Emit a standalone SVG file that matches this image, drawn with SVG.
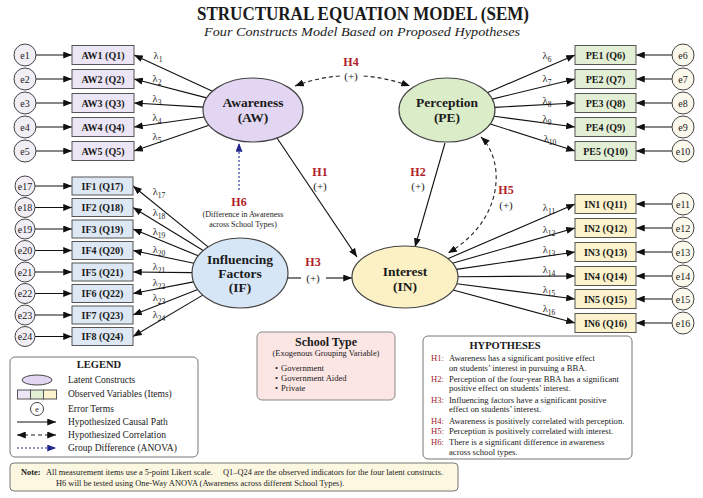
<svg xmlns="http://www.w3.org/2000/svg" width="703" height="498" viewBox="0 0 703 498">
<defs>
<style>
text{font-family:"Liberation Serif","DejaVu Serif",serif;fill:#1a1a1a}
.bx{stroke:#555;stroke-width:1}
.aw{fill:#ece5f6}.pe{fill:#e3efd5}.in{fill:#fcf2cc}.if{fill:#dde8f4}
.el{stroke:#444;stroke-width:1.2}
.ec{stroke:#444;stroke-width:1}
.el-l{fill:#f2eef6}.el-r{fill:#fbf8ec}
.bt{font-size:10px;font-weight:bold;text-anchor:middle;dominant-baseline:central}
.et{font-size:10px;text-anchor:middle;dominant-baseline:central}
.lt{font-size:13.5px;font-weight:bold;text-anchor:middle}
.lam{font-size:10.5px;text-anchor:middle}
.sub{font-size:7.5px}
.con{stroke:#111;stroke-width:1.1;fill:none}
.hl{font-size:12px;font-weight:bold;fill:#b01e2a;text-anchor:middle}
.pl{font-size:11px;text-anchor:middle}
.dash{stroke:#222;stroke-width:1.1;fill:none;stroke-dasharray:4 3}
.blu{stroke:#23288a;stroke-width:1.1;fill:none;stroke-dasharray:2 2}
.small{font-size:8.6px}
.hr{fill:#a31c2c}
.panel{fill:#fff;stroke:#777;stroke-width:1}
</style>
<marker id="ah" viewBox="0 0 10 8" refX="10" refY="4" markerWidth="9" markerHeight="7" markerUnits="userSpaceOnUse" orient="auto-start-reverse"><path d="M0,0 L10,4 L0,8 z" fill="#111"/></marker>
<marker id="ahb" viewBox="0 0 10 8" refX="10" refY="4" markerWidth="9" markerHeight="7" markerUnits="userSpaceOnUse" orient="auto-start-reverse"><path d="M0,0 L10,4 L0,8 z" fill="#23288a"/></marker>
</defs>
<rect width="703" height="498" fill="#fff"/>

<text x="363" y="20" font-size="19.5" font-weight="bold" text-anchor="middle" textLength="332" lengthAdjust="spacingAndGlyphs" fill="#1c1c2c">STRUCTURAL EQUATION MODEL (SEM)</text>
<text x="362" y="36" font-size="13.5" font-style="italic" text-anchor="middle" textLength="316" lengthAdjust="spacingAndGlyphs" fill="#333">Four Constructs Model Based on Proposed Hypotheses</text>

<g id="connectors">
<g class="con" marker-end="url(#ah)">
<line x1="36" y1="55" x2="72" y2="55"/><line x1="36" y1="79" x2="72" y2="79"/><line x1="36" y1="103" x2="72" y2="103"/><line x1="36" y1="127" x2="72" y2="127"/><line x1="36" y1="151" x2="72" y2="151"/>
<line x1="35" y1="186" x2="72" y2="186"/><line x1="35" y1="207.5" x2="72" y2="207.5"/><line x1="35" y1="229" x2="72" y2="229"/><line x1="35" y1="250.5" x2="72" y2="250.5"/><line x1="35" y1="272" x2="72" y2="272"/><line x1="35" y1="293.5" x2="72" y2="293.5"/><line x1="35" y1="315" x2="72" y2="315"/><line x1="35" y1="336.5" x2="72" y2="336.5"/>
<line x1="672" y1="55" x2="636" y2="55"/><line x1="672" y1="79" x2="636" y2="79"/><line x1="672" y1="103" x2="636" y2="103"/><line x1="672" y1="127" x2="636" y2="127"/><line x1="672" y1="151" x2="636" y2="151"/>
<line x1="672" y1="204" x2="636" y2="204"/><line x1="672" y1="228" x2="636" y2="228"/><line x1="672" y1="252" x2="636" y2="252"/><line x1="672" y1="276" x2="636" y2="276"/><line x1="672" y1="299" x2="636" y2="299"/><line x1="672" y1="323" x2="636" y2="323"/>
<line x1="212.5" y1="91.3" x2="134" y2="55"/><line x1="206.7" y1="97.9" x2="134" y2="79"/><line x1="203.2" y1="107.1" x2="134" y2="103"/><line x1="204.2" y1="117" x2="134" y2="127"/><line x1="209" y1="125.2" x2="134" y2="151"/>
<line x1="487.3" y1="92.7" x2="575" y2="55"/><line x1="492.1" y1="99.1" x2="575" y2="79"/><line x1="494.8" y1="107.4" x2="575" y2="103"/><line x1="494.1" y1="116.3" x2="575" y2="127"/><line x1="490.3" y1="123.9" x2="575" y2="151"/>
<line x1="447.8" y1="258.7" x2="575" y2="204"/><line x1="452.5" y1="263.3" x2="575" y2="228"/><line x1="456.4" y1="269.4" x2="575" y2="252"/><line x1="458" y1="276.7" x2="575" y2="276"/><line x1="456.7" y1="283.8" x2="575" y2="299"/><line x1="453.1" y1="290" x2="575" y2="323"/>
<line x1="208" y1="246.9" x2="133" y2="186"/><line x1="203.2" y1="250.5" x2="133" y2="207.5"/><line x1="198.2" y1="255.8" x2="133" y2="229"/><line x1="193.9" y1="263.3" x2="133" y2="250.5"/><line x1="192" y1="272.6" x2="133" y2="272"/><line x1="193.6" y1="281.9" x2="133" y2="293.5"/><line x1="197.7" y1="289.6" x2="133" y2="315"/><line x1="202.8" y1="295.1" x2="133" y2="336.5"/>
<line x1="277" y1="138" x2="357" y2="257"/>
<line x1="445" y1="143" x2="415" y2="247"/>
<line x1="326" y1="278" x2="352" y2="278"/>
</g>
<line class="con" x1="288" y1="278" x2="301" y2="278"/>
<path class="dash" d="M295,86 Q351,65 410,86" marker-start="url(#ah)" marker-end="url(#ah)"/>
<path class="dash" d="M481,137 C505,160 505,220 448,253" marker-start="url(#ah)" marker-end="url(#ah)"/>
<line class="blu" x1="239" y1="190" x2="239" y2="143" marker-end="url(#ahb)"/>
</g>

<g id="loadings">
<text class="lam" x="158" y="59">λ<tspan class="sub" dy="3">1</tspan></text>
<text class="lam" x="157" y="82">λ<tspan class="sub" dy="3">2</tspan></text>
<text class="lam" x="157" y="102">λ<tspan class="sub" dy="3">3</tspan></text>
<text class="lam" x="157" y="121">λ<tspan class="sub" dy="3">4</tspan></text>
<text class="lam" x="157" y="140">λ<tspan class="sub" dy="3">5</tspan></text>
<text class="lam" x="547" y="59">λ<tspan class="sub" dy="3">6</tspan></text>
<text class="lam" x="547" y="82">λ<tspan class="sub" dy="3">7</tspan></text>
<text class="lam" x="547" y="104">λ<tspan class="sub" dy="3">8</tspan></text>
<text class="lam" x="547" y="122">λ<tspan class="sub" dy="3">9</tspan></text>
<text class="lam" x="550" y="142">λ<tspan class="sub" dy="3">10</tspan></text>
<text class="lam" x="549" y="211">λ<tspan class="sub" dy="3">11</tspan></text>
<text class="lam" x="549" y="233">λ<tspan class="sub" dy="3">12</tspan></text>
<text class="lam" x="549" y="253">λ<tspan class="sub" dy="3">13</tspan></text>
<text class="lam" x="549" y="273">λ<tspan class="sub" dy="3">14</tspan></text>
<text class="lam" x="549" y="293">λ<tspan class="sub" dy="3">15</tspan></text>
<text class="lam" x="549" y="312">λ<tspan class="sub" dy="3">16</tspan></text>
<text class="lam" x="159" y="195">λ<tspan class="sub" dy="3">17</tspan></text>
<text class="lam" x="159" y="216">λ<tspan class="sub" dy="3">18</tspan></text>
<text class="lam" x="159" y="235">λ<tspan class="sub" dy="3">19</tspan></text>
<text class="lam" x="159" y="253">λ<tspan class="sub" dy="3">20</tspan></text>
<text class="lam" x="159" y="270">λ<tspan class="sub" dy="3">21</tspan></text>
<text class="lam" x="159" y="286">λ<tspan class="sub" dy="3">22</tspan></text>
<text class="lam" x="159" y="301">λ<tspan class="sub" dy="3">23</tspan></text>
<text class="lam" x="159" y="318">λ<tspan class="sub" dy="3">24</tspan></text>
</g>

<g id="hyp-labels">
<text class="hl" x="351" y="66">H4</text>
<rect x="340" y="70" width="22" height="12" fill="#fff"/>
<text class="pl" x="351" y="80">(+)</text>
<text class="hl" x="320" y="176">H1</text><text class="pl" x="320" y="190">(+)</text>
<text class="hl" x="418" y="176">H2</text><text class="pl" x="418" y="190">(+)</text>
<text class="hl" x="506" y="194">H5</text><text class="pl" x="506" y="209">(+)</text>
<text class="hl" x="313" y="266">H3</text><text class="pl" x="313" y="282">(+)</text>
<text class="hl" x="239" y="206">H6</text>
<text x="243" y="217" font-size="8" text-anchor="middle" fill="#23288a">(Difference in Awareness</text>
<text x="243" y="227" font-size="8" text-anchor="middle" fill="#23288a">across School Types)</text>
</g>

<g id="AW"><ellipse class="el" cx="253" cy="110" rx="50" ry="32" fill="#e3d6f3"/><text class="lt" x="253" y="107">Awareness</text><text class="lt" x="253" y="122">(AW)</text></g>
<g id="PE"><ellipse class="el" cx="447" cy="110" rx="48" ry="32" fill="#dbecc8"/><text class="lt" x="447" y="107">Perception</text><text class="lt" x="447" y="122">(PE)</text></g>
<g id="IN"><ellipse class="el" cx="405" cy="277" rx="53" ry="31" fill="#fcf1c5"/><text class="lt" x="405" y="276">Interest</text><text class="lt" x="405" y="291">(IN)</text></g>
<g id="IF"><ellipse class="el" cx="240" cy="273" rx="48" ry="35" fill="#d7e6f6"/><text class="lt" x="240" y="264">Influencing</text><text class="lt" x="240" y="278">Factors</text><text class="lt" x="240" y="292">(IF)</text></g>

<g id="AW1"><rect class="bx aw" x="72" y="45.5" width="62" height="19"/><text class="bt" x="103" y="55">AW1 (Q1)</text></g>
<g id="AW2"><rect class="bx aw" x="72" y="69.5" width="62" height="19"/><text class="bt" x="103" y="79">AW2 (Q2)</text></g>
<g id="AW3"><rect class="bx aw" x="72" y="93.5" width="62" height="19"/><text class="bt" x="103" y="103">AW3 (Q3)</text></g>
<g id="AW4"><rect class="bx aw" x="72" y="117.5" width="62" height="19"/><text class="bt" x="103" y="127">AW4 (Q4)</text></g>
<g id="AW5"><rect class="bx aw" x="72" y="141.5" width="62" height="19"/><text class="bt" x="103" y="151">AW5 (Q5)</text></g>
<g id="e1"><circle class="ec el-l" cx="25" cy="55" r="11"/><text class="et" x="25" y="55">e1</text></g>
<g id="e2"><circle class="ec el-l" cx="25" cy="79" r="11"/><text class="et" x="25" y="79">e2</text></g>
<g id="e3"><circle class="ec el-l" cx="25" cy="103" r="11"/><text class="et" x="25" y="103">e3</text></g>
<g id="e4"><circle class="ec el-l" cx="25" cy="127" r="11"/><text class="et" x="25" y="127">e4</text></g>
<g id="e5"><circle class="ec el-l" cx="25" cy="151" r="11"/><text class="et" x="25" y="151">e5</text></g>

<g id="PE1"><rect class="bx pe" x="575" y="45.5" width="61" height="19"/><text class="bt" x="605.5" y="55">PE1 (Q6)</text></g>
<g id="PE2"><rect class="bx pe" x="575" y="69.5" width="61" height="19"/><text class="bt" x="605.5" y="79">PE2 (Q7)</text></g>
<g id="PE3"><rect class="bx pe" x="575" y="93.5" width="61" height="19"/><text class="bt" x="605.5" y="103">PE3 (Q8)</text></g>
<g id="PE4"><rect class="bx pe" x="575" y="117.5" width="61" height="19"/><text class="bt" x="605.5" y="127">PE4 (Q9)</text></g>
<g id="PE5"><rect class="bx pe" x="575" y="141.5" width="61" height="19"/><text class="bt" x="605.5" y="151">PE5 (Q10)</text></g>
<g id="e6"><circle class="ec el-r" cx="683" cy="55" r="11"/><text class="et" x="683" y="55">e6</text></g>
<g id="e7"><circle class="ec el-r" cx="683" cy="79" r="11"/><text class="et" x="683" y="79">e7</text></g>
<g id="e8"><circle class="ec el-r" cx="683" cy="103" r="11"/><text class="et" x="683" y="103">e8</text></g>
<g id="e9"><circle class="ec el-r" cx="683" cy="127" r="11"/><text class="et" x="683" y="127">e9</text></g>
<g id="e10"><circle class="ec el-r" cx="683" cy="151" r="11"/><text class="et" x="683" y="151">e10</text></g>

<g id="IN1"><rect class="bx in" x="575" y="194.5" width="61" height="19"/><text class="bt" x="605.5" y="204">IN1 (Q11)</text></g>
<g id="IN2"><rect class="bx in" x="575" y="218.5" width="61" height="19"/><text class="bt" x="605.5" y="228">IN2 (Q12)</text></g>
<g id="IN3"><rect class="bx in" x="575" y="242.5" width="61" height="19"/><text class="bt" x="605.5" y="252">IN3 (Q13)</text></g>
<g id="IN4"><rect class="bx in" x="575" y="266.5" width="61" height="19"/><text class="bt" x="605.5" y="276">IN4 (Q14)</text></g>
<g id="IN5"><rect class="bx in" x="575" y="289.5" width="61" height="19"/><text class="bt" x="605.5" y="299">IN5 (Q15)</text></g>
<g id="IN6"><rect class="bx in" x="575" y="313.5" width="61" height="19"/><text class="bt" x="605.5" y="323">IN6 (Q16)</text></g>
<g id="e11"><circle class="ec el-r" cx="683" cy="204" r="11"/><text class="et" x="683" y="204">e11</text></g>
<g id="e12"><circle class="ec el-r" cx="683" cy="228" r="11"/><text class="et" x="683" y="228">e12</text></g>
<g id="e13"><circle class="ec el-r" cx="683" cy="252" r="11"/><text class="et" x="683" y="252">e13</text></g>
<g id="e14"><circle class="ec el-r" cx="683" cy="276" r="11"/><text class="et" x="683" y="276">e14</text></g>
<g id="e15"><circle class="ec el-r" cx="683" cy="299" r="11"/><text class="et" x="683" y="299">e15</text></g>
<g id="e16"><circle class="ec el-r" cx="683" cy="323" r="11"/><text class="et" x="683" y="323">e16</text></g>

<g id="IF1"><rect class="bx if" x="72" y="177" width="61" height="18"/><text class="bt" x="102.5" y="186">IF1 (Q17)</text></g>
<g id="IF2"><rect class="bx if" x="72" y="198.5" width="61" height="18"/><text class="bt" x="102.5" y="207.5">IF2 (Q18)</text></g>
<g id="IF3"><rect class="bx if" x="72" y="220" width="61" height="18"/><text class="bt" x="102.5" y="229">IF3 (Q19)</text></g>
<g id="IF4"><rect class="bx if" x="72" y="241.5" width="61" height="18"/><text class="bt" x="102.5" y="250.5">IF4 (Q20)</text></g>
<g id="IF5"><rect class="bx if" x="72" y="263" width="61" height="18"/><text class="bt" x="102.5" y="272">IF5 (Q21)</text></g>
<g id="IF6"><rect class="bx if" x="72" y="284.5" width="61" height="18"/><text class="bt" x="102.5" y="293.5">IF6 (Q22)</text></g>
<g id="IF7"><rect class="bx if" x="72" y="306" width="61" height="18"/><text class="bt" x="102.5" y="315">IF7 (Q23)</text></g>
<g id="IF8"><rect class="bx if" x="72" y="327.5" width="61" height="18"/><text class="bt" x="102.5" y="336.5">IF8 (Q24)</text></g>
<g id="e17"><circle class="ec el-l" cx="25" cy="186" r="10"/><text class="et" x="25" y="186">e17</text></g>
<g id="e18"><circle class="ec el-l" cx="25" cy="207.5" r="10"/><text class="et" x="25" y="207.5">e18</text></g>
<g id="e19"><circle class="ec el-l" cx="25" cy="229" r="10"/><text class="et" x="25" y="229">e19</text></g>
<g id="e20"><circle class="ec el-l" cx="25" cy="250.5" r="10"/><text class="et" x="25" y="250.5">e20</text></g>
<g id="e21"><circle class="ec el-l" cx="25" cy="272" r="10"/><text class="et" x="25" y="272">e21</text></g>
<g id="e22"><circle class="ec el-l" cx="25" cy="293.5" r="10"/><text class="et" x="25" y="293.5">e22</text></g>
<g id="e23"><circle class="ec el-l" cx="25" cy="315" r="10"/><text class="et" x="25" y="315">e23</text></g>
<g id="e24"><circle class="ec el-l" cx="25" cy="336.5" r="10"/><text class="et" x="25" y="336.5">e24</text></g>

<g id="legend">
<rect class="panel" x="10" y="357" width="188" height="100" rx="5"/>
<text x="99" y="368" font-size="10.5" font-weight="bold" text-anchor="middle" fill="#1c2357">LEGEND</text>
<ellipse cx="37" cy="380" rx="15" ry="5" fill="#e3d6f3" stroke="#444" stroke-width="1"/>
<rect x="17.5" y="390" width="13" height="9" fill="#ece5f6" stroke="#555"/>
<rect x="30.5" y="390" width="13" height="9" fill="#e3efd5" stroke="#555"/>
<rect x="43.5" y="390" width="13" height="9" fill="#fcf2cc" stroke="#555"/>
<circle cx="37" cy="409" r="6.5" fill="#fff" stroke="#444"/>
<text x="37" y="409" font-size="8" text-anchor="middle" dominant-baseline="central">e</text>
<line class="con" x1="17" y1="422" x2="56" y2="422" marker-end="url(#ah)"/>
<line class="dash" x1="17" y1="435" x2="56" y2="435" marker-start="url(#ah)" marker-end="url(#ah)"/>
<line class="blu" x1="17" y1="448" x2="56" y2="448" marker-end="url(#ahb)"/>
<g font-size="9.5">
<text x="68" y="383">Latent Constructs</text>
<text x="68" y="397">Observed Variables (Items)</text>
<text x="68" y="412">Error Terms</text>
<text x="68" y="425">Hypothesized Causal Path</text>
<text x="68" y="438">Hypothesized Correlation</text>
<text x="68" y="451">Group Difference (ANOVA)</text>
</g>
</g>

<g id="school-type">
<rect x="257" y="332" width="138" height="68" rx="5" fill="#fbe6e4" stroke="#888" stroke-width="1"/>
<text x="326" y="346" font-size="12" font-weight="bold" text-anchor="middle">School Type</text>
<text x="326" y="356" font-size="8.4" text-anchor="middle">(Exogenous Grouping Variable)</text>
<g font-size="8.6">
<text x="275" y="371">•</text><text x="281" y="371">Government</text>
<text x="275" y="381">•</text><text x="281" y="381">Government Aided</text>
<text x="275" y="391">•</text><text x="281" y="391">Private</text>
</g>
</g>

<g id="hypotheses">
<rect class="panel" x="423" y="336" width="209" height="123" rx="5"/>
<text x="505" y="349" font-size="10.5" font-weight="bold" text-anchor="middle" fill="#1c2357">HYPOTHESES</text>
<g class="small">
<text class="hr" x="431" y="361">H1:</text><text x="449" y="361">Awareness has a significant positive effect</text>
<text x="449" y="371">on students’ interest in pursuing a BBA.</text>
<text class="hr" x="431" y="382">H2:</text><text x="449" y="382">Perception of the four-year BBA has a significant</text>
<text x="449" y="391">positive effect on students’ interest.</text>
<text class="hr" x="431" y="403">H3:</text><text x="449" y="403">Influencing factors have a significant positive</text>
<text x="449" y="412">effect on students’ interest.</text>
<text class="hr" x="431" y="424">H4:</text><text x="449" y="424">Awareness is positively correlated with perception.</text>
<text class="hr" x="431" y="434">H5:</text><text x="449" y="434">Perception is positively correlated with interest.</text>
<text class="hr" x="431" y="445">H6:</text><text x="449" y="445">There is a significant difference in awareness</text>
<text x="449" y="455">across school types.</text>
</g>
</g>

<g id="note">
<rect x="10" y="463" width="448" height="28" rx="4" fill="#fcf7e1" stroke="#777" stroke-width="1"/>
<g font-size="8.4">
<text x="21" y="475" font-weight="bold">Note:</text>
<text x="46" y="475">All measurement items use a 5-point Likert scale.</text>
<text x="223" y="475">Q1–Q24 are the observed indicators for the four latent constructs.</text>
<text x="56" y="486">H6 will be tested using One-Way ANOVA (Awareness across different School Types).</text>
</g>
</g>
</svg>
